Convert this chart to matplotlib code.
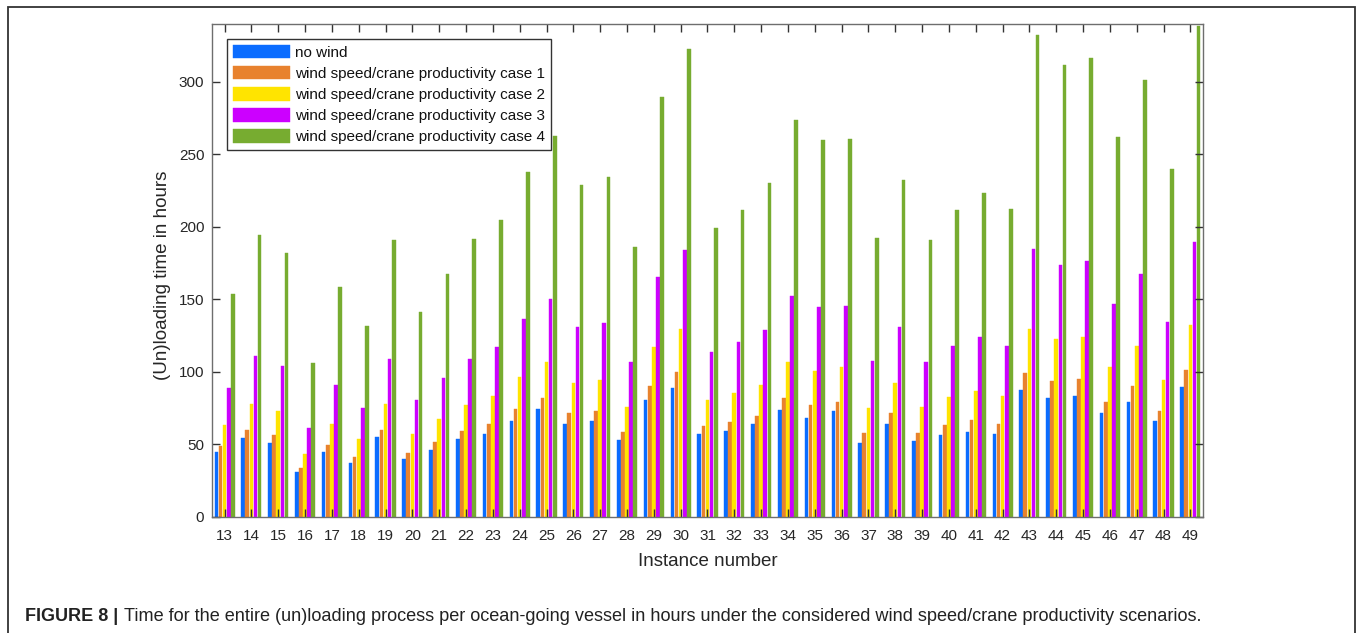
"""Grouped bar chart: (un)loading time per vessel under wind scenarios."""

import matplotlib

matplotlib.use("Agg")
import matplotlib.pyplot as plt
import numpy as np
from matplotlib.patches import Rectangle

plt.rcParams["font.family"] = ["Liberation Sans", "DejaVu Sans"]

instances = list(range(13, 50))

no_wind = [45, 54.6, 51.2, 31, 45, 37.4, 55.1, 39.7, 46.1, 53.7, 57.4, 66.3, 74.2,
           63.8, 65.9, 52.8, 80.6, 89.1, 56.9, 59.5, 63.8, 73.9, 68.6, 72.8, 50.7,
           63.8, 52.3, 56.5, 58.5, 57.2, 87.7, 82.2, 83.6, 71.4, 79.2, 66.3, 89.3]
case_1 = [48.9, 60.1, 56.7, 33.5, 49.6, 41.1, 59.9, 44.1, 51.9, 59.5, 64.3, 74.6, 82.2,
          71.4, 73, 58.5, 90.2, 100.1, 62.4, 65.7, 69.8, 82, 77.4, 79.2, 57.6,
          71.4, 58.1, 63.4, 67, 63.8, 99.2, 93.9, 95.5, 79.4, 90, 73, 101.7]
case_2 = [63.6, 78, 73.2, 43.6, 64, 53.5, 77.6, 57.2, 67.5, 77.4, 83.1, 96.4, 106.7,
          92.5, 94.8, 76, 116.9, 129.9, 81, 85.6, 90.9, 107, 101, 103.3, 75.3,
          92.5, 75.8, 82.4, 87.2, 83.3, 129.7, 122.4, 124.4, 103.3, 117.8, 94.8, 132.2]
case_3 = [89, 110.9, 103.8, 61.3, 90.9, 75.3, 109, 80.6, 95.7, 109, 117.1, 136.4, 150.1,
          130.9, 133.6, 107.2, 165.3, 184.1, 114.1, 120.8, 128.8, 152.7, 144.6, 145.8, 107.4,
          131.3, 107, 117.8, 124.4, 118.2, 184.6, 173.8, 176.5, 146.9, 167.8, 134.5, 189.4]
case_4 = [153.8, 194.7, 182.3, 106.5, 158.6, 131.5, 190.8, 141.4, 167.4, 191.9, 205, 237.6, 263,
          228.9, 234.6, 186, 289.7, 323, 199, 211.7, 230.3, 273.6, 259.9, 261, 192.4,
          232.3, 191.2, 211.7, 223.4, 212.4, 332.2, 311.8, 316.6, 262.2, 301.7, 240.1, 338.6]

series_labels = [
    "no wind",
    "wind speed/crane productivity case 1",
    "wind speed/crane productivity case 2",
    "wind speed/crane productivity case 3",
    "wind speed/crane productivity case 4",
]
series_values = [no_wind, case_1, case_2, case_3, case_4]
colors = ["#0A6CFF", "#E8822E", "#FFE400", "#CC00FF", "#77AC30"]

caption_bold = "FIGURE 8 |"
caption_text = ("Time for the entire (un)loading process per ocean-going vessel in hours "
                "under the considered wind speed/crane productivity scenarios.")

fig = plt.figure(figsize=(13.57, 6.33), dpi=100)
ax = fig.add_axes([0.1562, 0.1833, 0.7303, 0.7788])

x = np.array(instances, dtype=float)
slot = 0.769 / 5
bar_w = 0.88 * slot
for i, (vals, label, color) in enumerate(zip(series_values, series_labels, colors)):
    ax.bar(x + (i - 2) * slot, vals, width=bar_w, color=color, label=label,
           edgecolor=color, linewidth=0.3, zorder=1)

ax.set_xlim(12.53, 49.47)
ax.set_ylim(0, 340)
ax.set_xticks(instances)
ax.set_yticks([0, 50, 100, 150, 200, 250, 300])

for side in ("top", "bottom", "left", "right"):
    ax.spines[side].set_color("#6e6e6e")
    ax.spines[side].set_linewidth(1.0)

ax.tick_params(axis="both", direction="in", length=6, width=1, color="#333333",
               labelsize=11, labelcolor="#262626", top=True, right=True)
ax.tick_params(axis="x", pad=9)
ax.tick_params(axis="y", pad=5.5)

ax.set_xlabel("Instance number", fontsize=13.5, color="#262626")
ax.xaxis.set_label_coords(0.5, -0.073)
ax.set_ylabel("(Un)loading time in hours", fontsize=13.5, color="#262626")
ax.yaxis.set_label_coords(-0.041, 0.49)

leg = ax.legend(loc="upper left", bbox_to_anchor=(0.0155, 0.970), fontsize=11,
                handlelength=3.7, handleheight=1.0, labelspacing=0.4,
                handletextpad=0.35, borderpad=0.38, borderaxespad=0,
                frameon=True, fancybox=False, framealpha=1)
leg.get_frame().set_edgecolor("#333333")
leg.get_frame().set_linewidth(1.0)
for txt in leg.get_texts():
    txt.set_color("#111111")

# outer frame around the figure panel
fig.patches.append(Rectangle((8 / 1357, -0.1), 1347 / 1357, 1.1 - 7 / 633,
                             transform=fig.transFigure, fill=False,
                             edgecolor="#333333", linewidth=1.3))

t1 = fig.text(25 / 1357, 1 - 621 / 633, caption_bold, fontsize=13, fontweight="bold",
              color="#222222", va="baseline", ha="left")
ax.annotate(caption_text, xy=(1, 0), xycoords=t1, xytext=(4, 0),
            textcoords="offset points", fontsize=13.05, color="#222222",
            va="bottom", ha="left", annotation_clip=False)

fig.savefig("out.png", dpi=100)
